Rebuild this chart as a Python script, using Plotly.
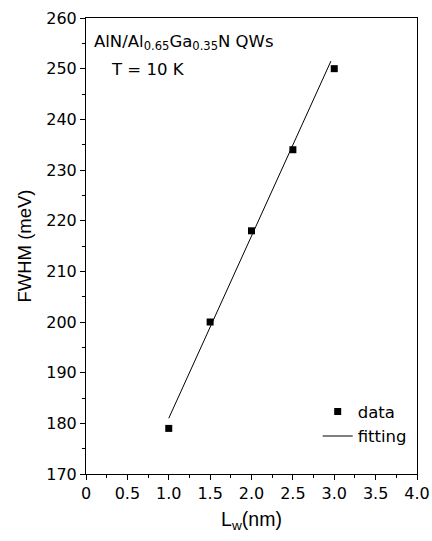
import plotly.graph_objects as go

lw_nm = [1.0, 1.5, 2.0, 2.5, 3.0]
fwhm_mev = [179, 200, 218, 234, 250]
fit_x = [1.0, 2.96]
fit_y = [181.0, 251.5]

FONT = "DejaVu Sans, Liberation Sans, Arial, sans-serif"
TFONT = "Liberation Sans, Arial, sans-serif"

fig = go.Figure()
fig.add_trace(go.Scatter(x=lw_nm, y=fwhm_mev, mode="markers", name="data",
                         marker=dict(symbol="square", size=7, color="black")))
fig.add_trace(go.Scatter(x=fit_x, y=fit_y, mode="lines", name="fitting",
                         line=dict(color="black", width=1)))

fig.update_layout(
    width=432, height=541,
    margin=dict(l=86, r=15, t=18, b=67),
    plot_bgcolor="white", paper_bgcolor="white",
    font=dict(family=FONT, size=16, color="black"),
    showlegend=True,
    legend=dict(x=0.70, y=0.11, xanchor="left", yanchor="middle",
                bgcolor="rgba(0,0,0,0)", font=dict(size=16.5, family=FONT),
                tracegroupgap=0, itemwidth=30),
    xaxis=dict(range=[0, 4.0], tickmode="array",
               tickvals=[0, 0.5, 1.0, 1.5, 2.0, 2.5, 3.0, 3.5, 4.0],
               ticktext=["0", "0.5", "1.0", "1.5", "2.0", "2.5", "3.0", "3.5", "4.0"],
               showline=True, linecolor="black", linewidth=1, mirror=True,
               ticks="outside", ticklen=5, tickcolor="black", automargin=False,
               minor=dict(dtick=0.25, ticks="outside", ticklen=3, tickcolor="black", showgrid=False),
               showgrid=False, zeroline=False,
               title=dict(text="L<sub>w</sub>(nm)", standoff=10, font=dict(size=19.5, family=TFONT))),
    yaxis=dict(range=[170, 260], dtick=10, tick0=170,
               showline=True, linecolor="black", linewidth=1, mirror=True,
               ticks="outside", ticklen=5, tickcolor="black", automargin=False,
               minor=dict(dtick=5, ticks="outside", ticklen=3, tickcolor="black", showgrid=False),
               showgrid=False, zeroline=False,
               title=dict(text="FWHM (meV)", standoff=9, font=dict(size=18.5, family=TFONT))),
)

fig.add_annotation(xref="paper", yref="paper", x=0.018, y=0.947, xanchor="left", yanchor="middle",
                   text="AlN/Al<sub>0.65</sub>Ga<sub>0.35</sub>N QWs", showarrow=False,
                   font=dict(size=16.5, family=FONT))
fig.add_annotation(xref="paper", yref="paper", x=0.07, y=0.886, xanchor="left", yanchor="middle",
                   text="T = 10 K", showarrow=False, font=dict(size=16.5, family=FONT))

fig.write_html("out.html", config={"displayModeBar": False},
               post_script="document.body.style.margin='0';document.body.style.overflow='hidden';")
